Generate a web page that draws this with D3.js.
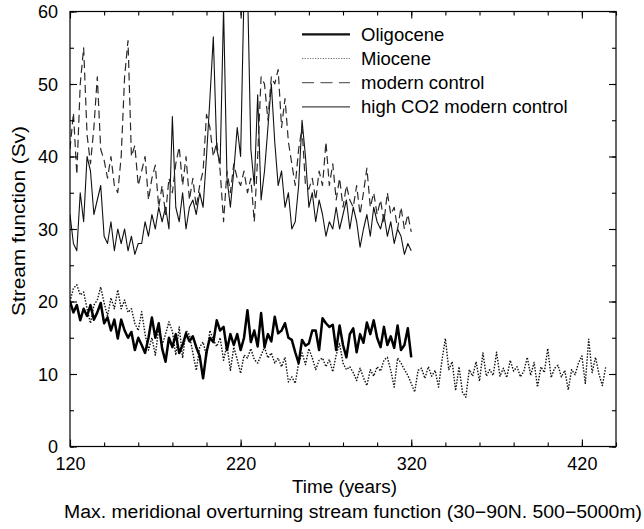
<!DOCTYPE html>
<html>
<head>
<meta charset="utf-8">
<script src="https://cdn.jsdelivr.net/npm/d3@7"></script>
<style>
  html, body { margin: 0; padding: 0; background: #fff; }
  svg { display: block; font-family: "Liberation Sans", Arial, Helvetica, sans-serif; }
</style>
</head>
<body>
<svg id="chart" width="644" height="529"></svg>
<script>
// Annual-mean overturning maxima, sampled every 2 model years from year 120
const startYear = 120;
const yearStep = 2;

const oligocene = [
  20, 18.5, 19.5, 17.4, 19, 18, 19.5, 17.5, 18.5, 19.8,
  17, 17.8, 16, 17.5, 14.9, 17.5, 16, 15, 15.8, 13.3,
  15, 14, 12.9, 15, 17.8, 15, 17, 13.5, 11.7, 15,
  13.7, 15.5, 12.9, 14, 15.6, 14.5, 15.2, 13.7, 12.5, 9.4,
  13, 15, 14.4, 17.4, 16, 16.5, 13.3, 15.5, 14, 15.5,
  13.3, 15, 18.8, 14.4, 16, 13.8, 18.4, 13.7, 15.5, 14.5,
  17.9, 15.6, 16, 17, 15, 14.7, 13, 11.5, 14.7, 13.9,
  14.2, 16, 16, 13.3, 17.7, 17, 16.5, 16.8, 13.3, 16.7,
  14, 12.3, 15.5, 16.3, 13, 15.5, 14.3, 17.1, 15.5, 17.4,
  15, 13.7, 16.5, 14, 15.2, 13.6, 16.7, 13.3, 14, 16.3,
  12.3
];

const miocene = [
  20, 21.8, 22.3, 20.9, 21.3, 19, 17, 19.5, 20.2, 22,
  19.8, 18, 20.5, 19, 21.6, 19, 20.2, 18.5, 19, 17,
  16, 18.6, 15.5, 13.3, 15, 12.6, 16.3, 14, 15.5, 17.2,
  15.9, 12.6, 16.5, 12.2, 16, 15.4, 12.9, 10.5, 13.7, 14.4,
  12.5, 16, 14.7, 13.8, 15, 11.9, 14, 10.5, 13.7, 12,
  10.1, 12.6, 12.2, 13.5, 12, 11.5, 12.6, 13.7, 12.2, 12.9,
  11.5, 12.2, 11, 12.3, 8.9, 9.6, 8.7, 11.5, 12.9, 11.3,
  13.5, 12.2, 10.6, 11.9, 12.2, 11, 12, 10.3, 12.6, 14.2,
  11.5, 10.6, 11, 10.2, 9.1, 10.8, 9.5, 8.4, 10.6, 9.7,
  11, 10.4, 11.9, 12.3, 10.5, 8.2, 12.2, 11.5, 10.6, 9.8,
  8.7, 7.5, 10.5, 10.8, 9.4, 11, 9.7, 10.5, 8.2, 11.9,
  14.9, 10.6, 11.7, 7.7, 11, 7.5, 6.8, 10.6, 9.7, 11.7,
  9, 12.9, 9.7, 10.6, 9.8, 13, 9.7, 10.8, 9.5, 11.9,
  10.4, 11, 9.6, 10.4, 12.3, 9.8, 11.6, 8.2, 11, 10.2,
  13.5, 9.5, 10.8, 11.2, 9.6, 10.5, 7.8, 10.6, 9.9, 11.5,
  12.5, 8.7, 14.8, 10.2, 12.3, 10, 8.4, 11
];

const modernControl = [
  41, 46, 37.5, 50, 55, 43, 39, 44, 51, 41,
  39.5, 37, 40, 36, 35, 40, 51, 56, 40, 41.5,
  36, 38, 40, 34, 37, 38.8, 33, 36, 32, 37,
  35, 39, 41.3, 36, 40, 34, 37, 33, 36, 38,
  45.8, 44, 40, 42, 38, 31, 38, 35, 39, 37,
  36, 38, 35, 37, 31, 40, 51, 50, 45, 51,
  50, 52, 44, 48, 42, 39, 36, 41, 44, 36,
  35.5, 37, 34, 38, 36, 42, 36, 39, 34, 37,
  33, 36, 34, 33, 36, 32, 35, 38.4, 33, 35,
  32, 34, 31, 35, 32, 33, 30, 33, 30, 32,
  29.6
];

const highCO2 = [
  32, 28, 27, 35, 31, 40, 38, 32, 34, 36,
  29, 28, 31, 27, 30, 28, 30, 27, 29, 26.5,
  28, 28, 31, 29, 32, 30, 33, 31, 33, 30,
  45.5, 33, 31, 35, 30, 33, 34, 32, 35, 33,
  40, 48, 56.5, 41, 39, 60.5, 37, 33, 38, 44,
  40, 63, 64, 41, 36, 48.5, 34, 38, 44, 50,
  42, 36, 38, 33, 35, 30, 31, 36, 45, 40,
  33, 35, 31, 34, 32, 29, 31, 30, 33, 30,
  32, 34, 30, 33, 31, 27.5, 30, 32, 29, 33,
  31, 30, 32, 29, 31, 28, 30, 29, 26.5, 28,
  27
];

const seriesNames = ["Oligocene", "Miocene", "modern control", "high CO2 modern control"];
const xTicks = [120, 220, 320, 420];
const yTicks = [0, 10, 20, 30, 40, 50, 60];

const svg = d3.select("#chart");
const plot = { left: 70, right: 616, top: 11.5, bottom: 446.5 };

const x = d3.scaleLinear().domain([120, 440]).range([plot.left, plot.right]);
const y = d3.scaleLinear().domain([0, 60]).range([plot.bottom, plot.top]);

// Line styles per series
const styles = [
  { values: oligocene, stroke: "#000", width: 2.5, dash: null, legendStroke: "#111", legendWidth: 2.2, legendDash: null },
  { values: miocene, stroke: "#111", width: 1.4, dash: "1.5,1.5", legendStroke: "#777", legendWidth: 1.2, legendDash: "1.3,1.3" },
  { values: modernControl, stroke: "#2a2a2a", width: 1.2, dash: "8,4.5", legendStroke: "#666", legendWidth: 1.3, legendDash: "12,6.5" },
  { values: highCO2, stroke: "#111", width: 1.1, dash: null, legendStroke: "#444", legendWidth: 1.1, legendDash: null }
];

svg.append("defs").append("clipPath").attr("id", "plotClip")
  .append("rect")
  .attr("x", plot.left).attr("y", plot.top)
  .attr("width", plot.right - plot.left).attr("height", plot.bottom - plot.top);

const line = d3.line()
  .x((d, i) => x(startYear + i * yearStep))
  .y(d => y(d));

const lines = svg.append("g").attr("clip-path", "url(#plotClip)");
// thin series first, thick Oligocene on top
[3, 2, 1, 0].forEach(k => {
  const s = styles[k];
  lines.append("path")
    .datum(s.values)
    .attr("fill", "none")
    .attr("stroke", s.stroke)
    .attr("stroke-width", s.width)
    .attr("stroke-dasharray", s.dash)
    .attr("stroke-linejoin", "round")
    .attr("d", line);
});

// Frame
svg.append("rect")
  .attr("x", plot.left).attr("y", plot.top)
  .attr("width", plot.right - plot.left).attr("height", plot.bottom - plot.top)
  .attr("fill", "none").attr("stroke", "#000").attr("stroke-width", 1.2);

// Inward ticks on all four sides, major labelled, minor unlabelled
const fontSize = 18;
const xMinor = d3.range(120, 441, 20);
const yMinor = d3.range(0, 61, 5);

function addAxis(axisGen, transform) {
  const g = svg.append("g").attr("transform", transform).call(axisGen);
  g.select(".domain").remove();
  g.selectAll("line").attr("stroke", "#000").attr("stroke-width", 1.1);
  return g;
}

// bottom
addAxis(d3.axisTop(x).tickValues(xMinor).tickSize(4).tickFormat(""), `translate(0,${plot.bottom})`);
const xb = addAxis(d3.axisTop(x).tickValues(xTicks).tickSize(7).tickFormat(d3.format("d")), `translate(0,${plot.bottom})`);
xb.selectAll("text")
  .attr("y", 23.5).attr("dy", null)
  .attr("font-size", fontSize).attr("fill", "#000")
  .attr("font-family", "Liberation Sans, Arial, sans-serif");
// top
addAxis(d3.axisBottom(x).tickValues(xMinor).tickSize(4).tickFormat(""), `translate(0,${plot.top})`);
addAxis(d3.axisBottom(x).tickValues(xTicks).tickSize(7).tickFormat(""), `translate(0,${plot.top})`);
// left
addAxis(d3.axisRight(y).tickValues(yMinor).tickSize(4).tickFormat(""), `translate(${plot.left},0)`);
const yl = addAxis(d3.axisRight(y).tickValues(yTicks).tickSize(7).tickFormat(d3.format("d")), `translate(${plot.left},0)`);
yl.selectAll("text")
  .attr("x", -12).attr("text-anchor", "end").attr("dy", "0.35em")
  .attr("font-size", fontSize).attr("fill", "#000")
  .attr("font-family", "Liberation Sans, Arial, sans-serif");
// right
addAxis(d3.axisLeft(y).tickValues(yMinor).tickSize(4).tickFormat(""), `translate(${plot.right},0)`);
addAxis(d3.axisLeft(y).tickValues(yTicks).tickSize(7).tickFormat(""), `translate(${plot.right},0)`);

// Axis titles
svg.append("text")
  .attr("transform", `translate(25,221) rotate(-90)`)
  .attr("text-anchor", "middle")
  .attr("font-size", 18.5)
  .attr("textLength", 190).attr("lengthAdjust", "spacingAndGlyphs")
  .text("Stream function (Sv)");

svg.append("text")
  .attr("x", 344.5).attr("y", 493)
  .attr("text-anchor", "middle")
  .attr("font-size", 18)
  .attr("textLength", 105).attr("lengthAdjust", "spacingAndGlyphs")
  .text("Time (years)");

svg.append("text")
  .attr("x", 64).attr("y", 518)
  .attr("text-anchor", "start")
  .attr("font-size", 18)
  .attr("textLength", 578).attr("lengthAdjust", "spacingAndGlyphs")
  .text("Max. meridional overturning stream function (30\u221290N. 500\u22125000m)");

// Legend
const legend = svg.append("g");
const legendY = d3.scaleLinear().domain([0, 1]).range([34.3, 58.5]);
seriesNames.forEach((name, i) => {
  const s = styles[i];
  const ly = legendY(i);
  legend.append("line")
    .attr("x1", 302).attr("x2", 350)
    .attr("y1", ly).attr("y2", ly)
    .attr("stroke", s.legendStroke)
    .attr("stroke-width", s.legendWidth)
    .attr("stroke-dasharray", s.legendDash);
  legend.append("text")
    .attr("x", 361).attr("y", ly + 6.3)
    .attr("font-size", 18.5)
    .attr("fill", "#000")
    .text(name);
});
</script>
</body>
</html>
